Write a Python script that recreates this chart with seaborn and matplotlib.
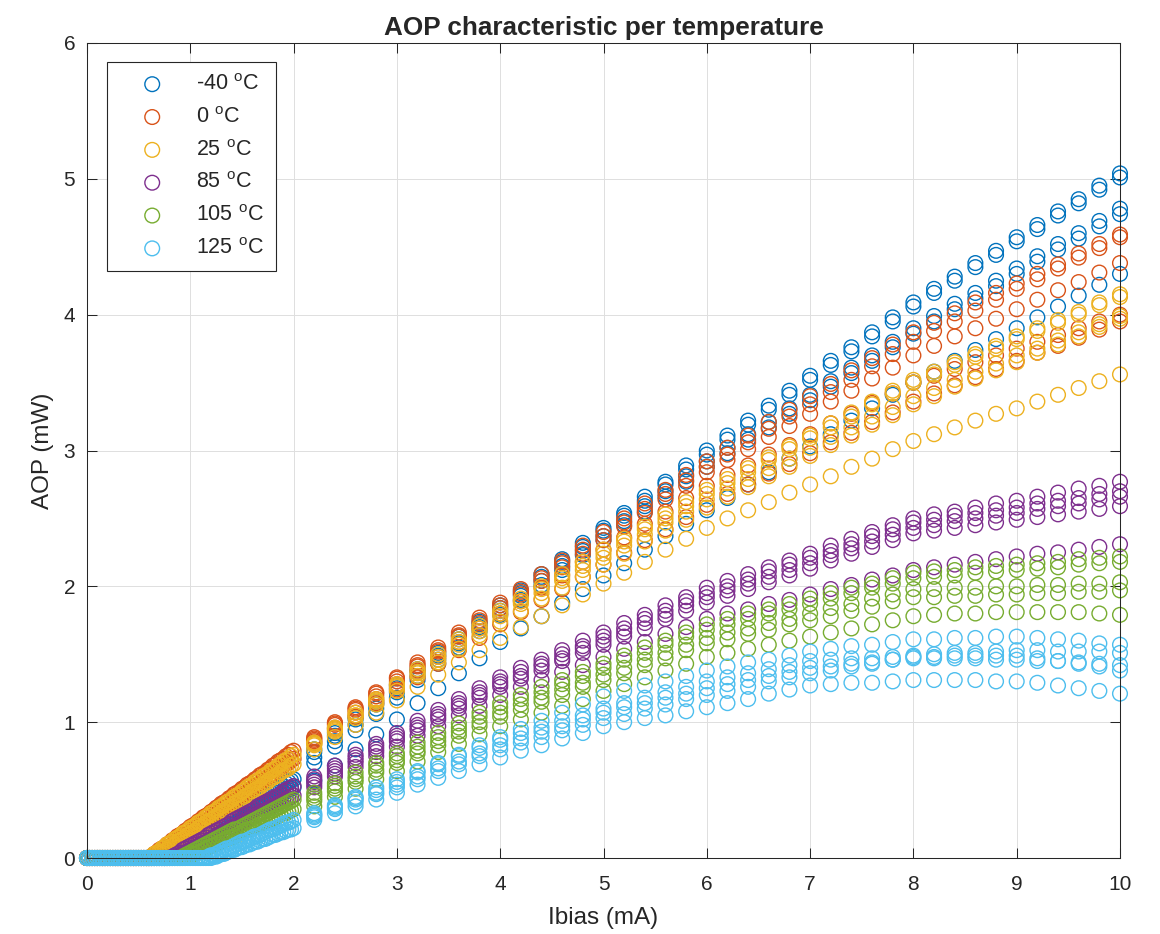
import pandas as pd
import seaborn as sns
import matplotlib.pyplot as plt

# bias current sweeps (mA): fine sweep up to 2 mA, coarse sweep above it
ibias_lo = [0.0, 0.025, 0.05, 0.075, 0.1, 0.125, 0.15, 0.175, 0.2, 0.225,
            0.25, 0.275, 0.3, 0.325, 0.35, 0.375, 0.4, 0.425, 0.45, 0.475,
            0.5, 0.525, 0.55, 0.575, 0.6, 0.625, 0.65, 0.675, 0.7, 0.725,
            0.75, 0.775, 0.8, 0.825, 0.85, 0.875, 0.9, 0.925, 0.95, 0.975,
            1.0, 1.025, 1.05, 1.075, 1.1, 1.125, 1.15, 1.175, 1.2, 1.225,
            1.25, 1.275, 1.3, 1.325, 1.35, 1.375, 1.4, 1.425, 1.45, 1.475,
            1.5, 1.525, 1.55, 1.575, 1.6, 1.625, 1.65, 1.675, 1.7, 1.725,
            1.75, 1.775, 1.8, 1.825, 1.85, 1.875, 1.9, 1.925, 1.95, 1.975,
            2.0]
ibias_hi = [2.2, 2.4, 2.6, 2.8, 3.0, 3.2, 3.4, 3.6, 3.8, 4.0,
            4.2, 4.4, 4.6, 4.8, 5.0, 5.2, 5.4, 5.6, 5.8, 6.0,
            6.2, 6.4, 6.6, 6.8, 7.0, 7.2, 7.4, 7.6, 7.8, 8.0,
            8.2, 8.4, 8.6, 8.8, 9.0, 9.2, 9.4, 9.6, 9.8, 10.0]

temps = ["-40", "0", "25", "85", "105", "125"]
colors = ["#0072BD", "#D95319", "#EDB120", "#7E2F8E", "#77AC30", "#4DBEEE"]

# AOP (mW) on the fine sweep, two devices per temperature
lo_m40 = [
    [0, 0, 0, 0, 0, 0, 0, 0, 0, 0,
     0, 0, 0, 0, 0, 0, 0, 0, 0, 0,
     0, 0, 0, 0, 0, 0, 0, 0, 0, 0,
     0.00, 0.01, 0.02, 0.03, 0.05, 0.06, 0.07, 0.08, 0.09, 0.10,
     0.12, 0.13, 0.14, 0.15, 0.16, 0.17, 0.19, 0.20, 0.21, 0.22,
     0.23, 0.24, 0.26, 0.27, 0.28, 0.29, 0.30, 0.31, 0.32, 0.34,
     0.35, 0.36, 0.37, 0.38, 0.39, 0.41, 0.42, 0.43, 0.44, 0.45,
     0.46, 0.48, 0.49, 0.50, 0.51, 0.52, 0.53, 0.55, 0.56, 0.57,
     0.58],
    [0, 0, 0, 0, 0, 0, 0, 0, 0, 0,
     0, 0, 0, 0, 0, 0, 0, 0, 0, 0,
     0, 0, 0, 0, 0, 0, 0, 0, 0, 0,
     0, 0, 0.00, 0.01, 0.02, 0.03, 0.04, 0.05, 0.06, 0.08,
     0.09, 0.10, 0.11, 0.12, 0.13, 0.14, 0.15, 0.16, 0.17, 0.18,
     0.19, 0.21, 0.22, 0.23, 0.24, 0.25, 0.26, 0.27, 0.28, 0.29,
     0.30, 0.31, 0.32, 0.34, 0.35, 0.36, 0.37, 0.38, 0.39, 0.40,
     0.41, 0.42, 0.43, 0.44, 0.45, 0.47, 0.48, 0.49, 0.50, 0.51,
     0.52],
]
lo_0 = [
    [0, 0, 0, 0, 0, 0, 0, 0, 0, 0,
     0, 0, 0, 0, 0, 0, 0, 0, 0, 0,
     0, 0, 0, 0, 0.00, 0.01, 0.03, 0.04, 0.06, 0.07,
     0.08, 0.10, 0.11, 0.13, 0.14, 0.16, 0.17, 0.18, 0.20, 0.21,
     0.23, 0.24, 0.25, 0.27, 0.28, 0.30, 0.31, 0.32, 0.34, 0.35,
     0.37, 0.38, 0.40, 0.41, 0.42, 0.44, 0.45, 0.47, 0.48, 0.49,
     0.51, 0.52, 0.54, 0.55, 0.56, 0.58, 0.59, 0.61, 0.62, 0.63,
     0.65, 0.66, 0.68, 0.69, 0.71, 0.72, 0.73, 0.75, 0.76, 0.78,
     0.79],
    [0, 0, 0, 0, 0, 0, 0, 0, 0, 0,
     0, 0, 0, 0, 0, 0, 0, 0, 0, 0,
     0, 0, 0, 0, 0, 0, 0.00, 0.01, 0.03, 0.04,
     0.05, 0.07, 0.08, 0.09, 0.11, 0.12, 0.14, 0.15, 0.16, 0.18,
     0.19, 0.20, 0.22, 0.23, 0.24, 0.26, 0.27, 0.28, 0.30, 0.31,
     0.32, 0.34, 0.35, 0.37, 0.38, 0.39, 0.41, 0.42, 0.43, 0.45,
     0.46, 0.47, 0.49, 0.50, 0.51, 0.53, 0.54, 0.55, 0.57, 0.58,
     0.59, 0.61, 0.62, 0.64, 0.65, 0.66, 0.68, 0.69, 0.70, 0.72,
     0.73],
]
lo_25 = [
    [0, 0, 0, 0, 0, 0, 0, 0, 0, 0,
     0, 0, 0, 0, 0, 0, 0, 0, 0, 0,
     0, 0, 0, 0, 0.00, 0.01, 0.03, 0.04, 0.05, 0.07,
     0.08, 0.10, 0.11, 0.12, 0.14, 0.15, 0.16, 0.18, 0.19, 0.20,
     0.22, 0.23, 0.24, 0.26, 0.27, 0.28, 0.30, 0.31, 0.33, 0.34,
     0.35, 0.37, 0.38, 0.39, 0.41, 0.42, 0.43, 0.45, 0.46, 0.47,
     0.49, 0.50, 0.52, 0.53, 0.54, 0.56, 0.57, 0.58, 0.60, 0.61,
     0.62, 0.64, 0.65, 0.66, 0.68, 0.69, 0.71, 0.72, 0.73, 0.75,
     0.76],
    [0, 0, 0, 0, 0, 0, 0, 0, 0, 0,
     0, 0, 0, 0, 0, 0, 0, 0, 0, 0,
     0, 0, 0, 0, 0, 0, 0.00, 0.01, 0.03, 0.04,
     0.05, 0.06, 0.08, 0.09, 0.10, 0.12, 0.13, 0.14, 0.15, 0.17,
     0.18, 0.19, 0.20, 0.22, 0.23, 0.24, 0.26, 0.27, 0.28, 0.29,
     0.31, 0.32, 0.33, 0.35, 0.36, 0.37, 0.38, 0.40, 0.41, 0.42,
     0.43, 0.45, 0.46, 0.47, 0.49, 0.50, 0.51, 0.52, 0.54, 0.55,
     0.56, 0.58, 0.59, 0.60, 0.61, 0.63, 0.64, 0.65, 0.66, 0.68,
     0.69],
]
lo_85 = [
    [0, 0, 0, 0, 0, 0, 0, 0, 0, 0,
     0, 0, 0, 0, 0, 0, 0, 0, 0, 0,
     0, 0, 0, 0, 0, 0, 0, 0, 0, 0,
     0, 0, 0.00, 0.01, 0.02, 0.03, 0.04, 0.06, 0.07, 0.08,
     0.09, 0.10, 0.11, 0.12, 0.13, 0.14, 0.15, 0.17, 0.18, 0.19,
     0.20, 0.21, 0.22, 0.23, 0.24, 0.25, 0.27, 0.28, 0.29, 0.30,
     0.31, 0.32, 0.33, 0.34, 0.35, 0.36, 0.38, 0.39, 0.40, 0.41,
     0.42, 0.43, 0.44, 0.45, 0.46, 0.47, 0.49, 0.50, 0.51, 0.52,
     0.53],
    [0, 0, 0, 0, 0, 0, 0, 0, 0, 0,
     0, 0, 0, 0, 0, 0, 0, 0, 0, 0,
     0, 0, 0, 0, 0, 0, 0, 0, 0, 0,
     0, 0, 0, 0, 0.00, 0.01, 0.02, 0.03, 0.04, 0.05,
     0.06, 0.07, 0.08, 0.09, 0.10, 0.11, 0.12, 0.13, 0.14, 0.15,
     0.16, 0.17, 0.18, 0.19, 0.20, 0.21, 0.22, 0.23, 0.24, 0.25,
     0.26, 0.27, 0.28, 0.29, 0.30, 0.31, 0.32, 0.33, 0.34, 0.35,
     0.36, 0.37, 0.38, 0.39, 0.40, 0.41, 0.42, 0.43, 0.44, 0.45,
     0.46],
]
lo_105 = [
    [0, 0, 0, 0, 0, 0, 0, 0, 0, 0,
     0, 0, 0, 0, 0, 0, 0, 0, 0, 0,
     0, 0, 0, 0, 0, 0, 0, 0, 0, 0,
     0, 0, 0, 0, 0, 0, 0.00, 0.01, 0.02, 0.03,
     0.04, 0.05, 0.06, 0.07, 0.08, 0.09, 0.10, 0.11, 0.12, 0.13,
     0.14, 0.15, 0.16, 0.17, 0.18, 0.19, 0.20, 0.21, 0.21, 0.22,
     0.23, 0.24, 0.25, 0.26, 0.27, 0.28, 0.29, 0.30, 0.31, 0.32,
     0.33, 0.34, 0.35, 0.36, 0.37, 0.38, 0.39, 0.40, 0.41, 0.42,
     0.43],
    [0, 0, 0, 0, 0, 0, 0, 0, 0, 0,
     0, 0, 0, 0, 0, 0, 0, 0, 0, 0,
     0, 0, 0, 0, 0, 0, 0, 0, 0, 0,
     0, 0, 0, 0, 0, 0, 0, 0, 0.00, 0.01,
     0.02, 0.03, 0.03, 0.04, 0.05, 0.06, 0.07, 0.08, 0.09, 0.09,
     0.10, 0.11, 0.12, 0.13, 0.14, 0.15, 0.15, 0.16, 0.17, 0.18,
     0.19, 0.20, 0.21, 0.21, 0.22, 0.23, 0.24, 0.25, 0.26, 0.27,
     0.27, 0.28, 0.29, 0.30, 0.31, 0.32, 0.33, 0.33, 0.34, 0.35,
     0.36],
]
lo_125 = [
    [0, 0, 0, 0, 0, 0, 0, 0, 0, 0,
     0, 0, 0, 0, 0, 0, 0, 0, 0, 0,
     0, 0, 0, 0, 0, 0, 0, 0, 0, 0,
     0, 0, 0, 0, 0, 0, 0, 0, 0, 0,
     0, 0, 0, 0, 0, 0, 0.00, 0.01, 0.02, 0.02,
     0.03, 0.04, 0.05, 0.06, 0.07, 0.07, 0.08, 0.09, 0.10, 0.11,
     0.12, 0.12, 0.13, 0.14, 0.15, 0.16, 0.16, 0.17, 0.18, 0.19,
     0.20, 0.21, 0.21, 0.22, 0.23, 0.24, 0.25, 0.26, 0.26, 0.27,
     0.28],
    [0, 0, 0, 0, 0, 0, 0, 0, 0, 0,
     0, 0, 0, 0, 0, 0, 0, 0, 0, 0,
     0, 0, 0, 0, 0, 0, 0, 0, 0, 0,
     0, 0, 0, 0, 0, 0, 0, 0, 0, 0,
     0, 0, 0, 0, 0, 0, 0, 0, 0.00, 0.01,
     0.01, 0.02, 0.03, 0.03, 0.04, 0.05, 0.06, 0.06, 0.07, 0.08,
     0.08, 0.09, 0.10, 0.10, 0.11, 0.12, 0.12, 0.13, 0.14, 0.14,
     0.15, 0.16, 0.17, 0.17, 0.18, 0.19, 0.19, 0.20, 0.21, 0.21,
     0.22],
]

# AOP (mW) on the coarse sweep, five devices per temperature
hi_m40 = [
    [0.80, 0.92, 1.04, 1.15, 1.27, 1.39, 1.51, 1.63, 1.74, 1.86,
     1.97, 2.09, 2.20, 2.32, 2.43, 2.54, 2.66, 2.77, 2.89, 3.00,
     3.11, 3.22, 3.33, 3.44, 3.55, 3.66, 3.76, 3.87, 3.98, 4.09,
     4.19, 4.28, 4.38, 4.47, 4.57, 4.66, 4.76, 4.85, 4.95, 5.04],
    [0.74, 0.86, 0.98, 1.10, 1.22, 1.34, 1.46, 1.58, 1.70, 1.82,
     1.93, 2.04, 2.15, 2.26, 2.37, 2.48, 2.59, 2.70, 2.81, 2.92,
     3.02, 3.12, 3.21, 3.31, 3.41, 3.51, 3.61, 3.70, 3.80, 3.90,
     3.99, 4.08, 4.16, 4.25, 4.34, 4.43, 4.52, 4.60, 4.69, 4.78],
    [0.70, 0.82, 0.94, 1.06, 1.18, 1.31, 1.43, 1.55, 1.67, 1.79,
     1.90, 2.01, 2.12, 2.23, 2.34, 2.45, 2.55, 2.66, 2.77, 2.88,
     2.98, 3.08, 3.17, 3.27, 3.37, 3.47, 3.57, 3.66, 3.76, 3.86,
     3.95, 4.04, 4.12, 4.21, 4.30, 4.39, 4.48, 4.56, 4.65, 4.74],
    [0.57, 0.68, 0.80, 0.91, 1.02, 1.14, 1.25, 1.36, 1.47, 1.59,
     1.69, 1.78, 1.88, 1.98, 2.08, 2.17, 2.27, 2.37, 2.46, 2.56,
     2.65, 2.75, 2.84, 2.94, 3.03, 3.12, 3.22, 3.31, 3.41, 3.50,
     3.58, 3.66, 3.74, 3.82, 3.90, 3.98, 4.06, 4.14, 4.22, 4.30],
    [0.78, 0.90, 1.02, 1.13, 1.25, 1.37, 1.49, 1.61, 1.72, 1.84,
     1.95, 2.07, 2.18, 2.29, 2.41, 2.52, 2.63, 2.75, 2.86, 2.97,
     3.08, 3.19, 3.30, 3.41, 3.52, 3.63, 3.73, 3.84, 3.95, 4.06,
     4.16, 4.25, 4.35, 4.44, 4.54, 4.63, 4.73, 4.82, 4.92, 5.01],
]
hi_0 = [
    [0.89, 1.00, 1.11, 1.22, 1.33, 1.44, 1.55, 1.66, 1.77, 1.88,
     1.98, 2.09, 2.19, 2.30, 2.40, 2.50, 2.61, 2.71, 2.82, 2.92,
     3.02, 3.11, 3.21, 3.30, 3.40, 3.49, 3.59, 3.68, 3.78, 3.87,
     3.94, 4.01, 4.09, 4.16, 4.23, 4.30, 4.37, 4.45, 4.52, 4.59],
    [0.88, 0.99, 1.10, 1.21, 1.32, 1.42, 1.53, 1.64, 1.75, 1.86,
     1.96, 2.06, 2.17, 2.27, 2.37, 2.47, 2.57, 2.68, 2.78, 2.88,
     2.97, 3.06, 3.16, 3.25, 3.34, 3.43, 3.52, 3.62, 3.71, 3.80,
     3.88, 3.95, 4.03, 4.11, 4.19, 4.26, 4.34, 4.42, 4.49, 4.57],
    [0.87, 0.98, 1.09, 1.19, 1.30, 1.41, 1.52, 1.63, 1.73, 1.84,
     1.94, 2.04, 2.14, 2.24, 2.34, 2.44, 2.54, 2.64, 2.74, 2.84,
     2.93, 3.01, 3.10, 3.18, 3.27, 3.36, 3.44, 3.53, 3.61, 3.70,
     3.77, 3.84, 3.90, 3.97, 4.04, 4.11, 4.18, 4.24, 4.31, 4.38],
    [0.86, 0.96, 1.07, 1.17, 1.28, 1.38, 1.48, 1.59, 1.69, 1.80,
     1.89, 1.99, 2.08, 2.18, 2.27, 2.36, 2.46, 2.55, 2.65, 2.74,
     2.82, 2.89, 2.97, 3.04, 3.12, 3.20, 3.27, 3.35, 3.42, 3.50,
     3.55, 3.60, 3.65, 3.70, 3.75, 3.80, 3.85, 3.90, 3.95, 4.00],
    [0.85, 0.95, 1.04, 1.14, 1.24, 1.33, 1.43, 1.53, 1.62, 1.72,
     1.81, 1.90, 1.98, 2.07, 2.16, 2.25, 2.34, 2.42, 2.51, 2.60,
     2.68, 2.75, 2.83, 2.90, 2.98, 3.06, 3.13, 3.21, 3.28, 3.36,
     3.42, 3.48, 3.54, 3.60, 3.66, 3.72, 3.77, 3.83, 3.89, 3.95],
]
hi_25 = [
    [0.85, 0.96, 1.07, 1.17, 1.28, 1.39, 1.50, 1.61, 1.71, 1.82,
     1.91, 2.00, 2.09, 2.18, 2.27, 2.35, 2.44, 2.53, 2.62, 2.71,
     2.79, 2.87, 2.95, 3.03, 3.11, 3.20, 3.28, 3.36, 3.44, 3.52,
     3.58, 3.65, 3.71, 3.77, 3.84, 3.90, 3.96, 4.02, 4.09, 4.15],
    [0.84, 0.94, 1.05, 1.15, 1.26, 1.36, 1.46, 1.57, 1.67, 1.78,
     1.87, 1.95, 2.04, 2.12, 2.21, 2.30, 2.38, 2.47, 2.55, 2.64,
     2.72, 2.79, 2.87, 2.94, 3.02, 3.10, 3.17, 3.25, 3.32, 3.40,
     3.46, 3.52, 3.58, 3.64, 3.70, 3.75, 3.81, 3.87, 3.93, 3.99],
    [0.83, 0.93, 1.03, 1.13, 1.23, 1.34, 1.44, 1.54, 1.64, 1.74,
     1.82, 1.91, 1.99, 2.07, 2.16, 2.24, 2.33, 2.41, 2.49, 2.58,
     2.66, 2.73, 2.81, 2.88, 2.96, 3.04, 3.11, 3.19, 3.26, 3.34,
     3.40, 3.47, 3.53, 3.59, 3.65, 3.72, 3.78, 3.84, 3.91, 3.97],
    [0.80, 0.89, 0.98, 1.07, 1.16, 1.26, 1.35, 1.44, 1.53, 1.62,
     1.70, 1.78, 1.86, 1.94, 2.02, 2.10, 2.18, 2.27, 2.35, 2.43,
     2.50, 2.56, 2.62, 2.69, 2.75, 2.81, 2.88, 2.94, 3.01, 3.07,
     3.12, 3.17, 3.22, 3.27, 3.31, 3.36, 3.41, 3.46, 3.51, 3.56],
    [0.84, 0.95, 1.05, 1.16, 1.27, 1.37, 1.48, 1.59, 1.69, 1.80,
     1.89, 1.98, 2.06, 2.15, 2.24, 2.33, 2.42, 2.50, 2.59, 2.68,
     2.76, 2.84, 2.93, 3.01, 3.09, 3.17, 3.25, 3.34, 3.42, 3.50,
     3.56, 3.63, 3.69, 3.75, 3.82, 3.88, 3.94, 4.00, 4.07, 4.13],
]
hi_85 = [
    [0.60, 0.68, 0.76, 0.84, 0.92, 1.01, 1.09, 1.17, 1.25, 1.33,
     1.40, 1.46, 1.53, 1.60, 1.66, 1.73, 1.79, 1.86, 1.92, 1.99,
     2.04, 2.09, 2.14, 2.19, 2.24, 2.30, 2.35, 2.40, 2.45, 2.50,
     2.53, 2.55, 2.58, 2.61, 2.63, 2.66, 2.69, 2.72, 2.74, 2.77],
    [0.58, 0.66, 0.74, 0.82, 0.90, 0.98, 1.06, 1.14, 1.22, 1.30,
     1.37, 1.43, 1.50, 1.56, 1.63, 1.69, 1.76, 1.82, 1.89, 1.95,
     2.00, 2.05, 2.11, 2.16, 2.21, 2.26, 2.31, 2.37, 2.42, 2.47,
     2.49, 2.52, 2.54, 2.56, 2.58, 2.61, 2.63, 2.65, 2.68, 2.70],
    [0.56, 0.64, 0.72, 0.80, 0.88, 0.96, 1.04, 1.12, 1.20, 1.28,
     1.34, 1.41, 1.47, 1.54, 1.60, 1.66, 1.73, 1.79, 1.86, 1.92,
     1.97, 2.02, 2.07, 2.12, 2.17, 2.23, 2.28, 2.33, 2.38, 2.43,
     2.45, 2.48, 2.50, 2.52, 2.54, 2.57, 2.59, 2.61, 2.64, 2.66],
    [0.54, 0.62, 0.70, 0.78, 0.86, 0.94, 1.02, 1.10, 1.18, 1.26,
     1.32, 1.38, 1.45, 1.51, 1.57, 1.63, 1.69, 1.76, 1.82, 1.88,
     1.93, 1.98, 2.03, 2.08, 2.13, 2.19, 2.24, 2.29, 2.34, 2.39,
     2.41, 2.43, 2.45, 2.47, 2.49, 2.51, 2.53, 2.55, 2.57, 2.59],
    [0.52, 0.60, 0.67, 0.75, 0.82, 0.90, 0.97, 1.05, 1.12, 1.20,
     1.26, 1.31, 1.37, 1.42, 1.48, 1.54, 1.59, 1.65, 1.70, 1.76,
     1.80, 1.83, 1.87, 1.90, 1.94, 1.98, 2.01, 2.05, 2.08, 2.12,
     2.14, 2.16, 2.18, 2.20, 2.22, 2.24, 2.25, 2.27, 2.29, 2.31],
]
hi_105 = [
    [0.48, 0.55, 0.63, 0.70, 0.77, 0.85, 0.92, 0.99, 1.07, 1.14,
     1.20, 1.26, 1.31, 1.37, 1.43, 1.49, 1.55, 1.60, 1.66, 1.72,
     1.76, 1.80, 1.83, 1.87, 1.91, 1.95, 1.99, 2.02, 2.06, 2.10,
     2.11, 2.12, 2.14, 2.15, 2.16, 2.17, 2.18, 2.20, 2.21, 2.22],
    [0.46, 0.53, 0.60, 0.68, 0.75, 0.82, 0.89, 0.96, 1.04, 1.11,
     1.17, 1.22, 1.28, 1.34, 1.40, 1.46, 1.51, 1.57, 1.63, 1.68,
     1.72, 1.76, 1.80, 1.83, 1.87, 1.91, 1.95, 1.99, 2.02, 2.06,
     2.07, 2.08, 2.10, 2.11, 2.12, 2.13, 2.14, 2.16, 2.17, 2.18],
    [0.44, 0.51, 0.58, 0.65, 0.72, 0.79, 0.86, 0.93, 1.00, 1.07,
     1.13, 1.18, 1.24, 1.29, 1.35, 1.40, 1.46, 1.51, 1.57, 1.62,
     1.66, 1.69, 1.73, 1.76, 1.80, 1.84, 1.87, 1.91, 1.94, 1.98,
     1.98, 1.99, 1.99, 2.00, 2.00, 2.01, 2.01, 2.02, 2.02, 2.03],
    [0.42, 0.49, 0.56, 0.63, 0.70, 0.77, 0.83, 0.90, 0.97, 1.04,
     1.09, 1.15, 1.20, 1.26, 1.31, 1.36, 1.42, 1.47, 1.53, 1.58,
     1.61, 1.65, 1.68, 1.72, 1.75, 1.78, 1.82, 1.85, 1.89, 1.92,
     1.92, 1.93, 1.93, 1.94, 1.94, 1.95, 1.95, 1.96, 1.96, 1.97],
    [0.38, 0.45, 0.51, 0.58, 0.64, 0.71, 0.78, 0.84, 0.91, 0.97,
     1.02, 1.07, 1.12, 1.17, 1.23, 1.28, 1.33, 1.38, 1.43, 1.48,
     1.51, 1.54, 1.57, 1.60, 1.63, 1.66, 1.69, 1.72, 1.75, 1.78,
     1.79, 1.80, 1.80, 1.81, 1.81, 1.81, 1.81, 1.81, 1.80, 1.79],
]
hi_125 = [
    [0.33, 0.39, 0.45, 0.52, 0.58, 0.64, 0.70, 0.76, 0.83, 0.89,
     0.95, 1.01, 1.07, 1.13, 1.19, 1.23, 1.27, 1.30, 1.34, 1.38,
     1.41, 1.44, 1.46, 1.49, 1.52, 1.54, 1.56, 1.57, 1.59, 1.61,
     1.61, 1.62, 1.62, 1.63, 1.63, 1.62, 1.61, 1.60, 1.58, 1.57],
    [0.32, 0.38, 0.44, 0.50, 0.56, 0.63, 0.69, 0.75, 0.81, 0.87,
     0.92, 0.96, 1.01, 1.05, 1.10, 1.14, 1.18, 1.22, 1.26, 1.30,
     1.33, 1.36, 1.39, 1.42, 1.45, 1.46, 1.47, 1.47, 1.48, 1.49,
     1.50, 1.51, 1.51, 1.52, 1.53, 1.53, 1.52, 1.52, 1.52, 1.51],
    [0.31, 0.37, 0.43, 0.48, 0.54, 0.60, 0.66, 0.71, 0.77, 0.83,
     0.88, 0.93, 0.97, 1.02, 1.07, 1.11, 1.14, 1.18, 1.21, 1.25,
     1.28, 1.31, 1.34, 1.37, 1.40, 1.41, 1.43, 1.44, 1.46, 1.47,
     1.47, 1.47, 1.47, 1.46, 1.46, 1.45, 1.45, 1.44, 1.43, 1.42],
    [0.30, 0.36, 0.41, 0.47, 0.52, 0.58, 0.64, 0.69, 0.75, 0.80,
     0.85, 0.89, 0.94, 0.98, 1.03, 1.06, 1.10, 1.13, 1.17, 1.20,
     1.23, 1.26, 1.30, 1.33, 1.36, 1.38, 1.41, 1.43, 1.46, 1.48,
     1.48, 1.49, 1.49, 1.49, 1.49, 1.47, 1.45, 1.43, 1.41, 1.38],
    [0.28, 0.33, 0.38, 0.43, 0.48, 0.54, 0.59, 0.64, 0.69, 0.74,
     0.79, 0.83, 0.88, 0.92, 0.97, 1.00, 1.03, 1.05, 1.08, 1.11,
     1.14, 1.17, 1.21, 1.24, 1.27, 1.28, 1.29, 1.29, 1.30, 1.31,
     1.31, 1.31, 1.31, 1.30, 1.30, 1.29, 1.27, 1.25, 1.23, 1.21],
]

aop_lo = [lo_m40, lo_0, lo_25, lo_85, lo_105, lo_125]
aop_hi = [hi_m40, hi_0, hi_25, hi_85, hi_105, hi_125]

# long-form table: one row per measured point
frames = []
for temp, lo_set, hi_set in zip(temps, aop_lo, aop_hi):
    for dev in lo_set:
        frames.append(pd.DataFrame({"ibias": ibias_lo, "aop": dev, "temp": temp}))
    for dev in hi_set:
        frames.append(pd.DataFrame({"ibias": ibias_hi, "aop": dev, "temp": temp}))
df = pd.concat(frames, ignore_index=True)

sns.set_style("ticks")
plt.rcParams["font.family"] = ["Liberation Sans", "DejaVu Sans"]
ink = "#262626"

fig = plt.figure(figsize=(11.6, 9.34), dpi=100)
ax = fig.add_axes([87 / 1160, 76 / 934, 1033 / 1160, 815 / 934])

# hollow circles, one colour per temperature (later temperatures drawn on top)
for temp, color in zip(temps, colors):
    sns.scatterplot(data=df[df["temp"] == temp], x="ibias", y="aop", ax=ax,
                    marker="o", s=112, color=color, facecolors="none",
                    edgecolor=color, linewidth=1.0, clip_on=False,
                    label=temp + r" $^\mathregular{o}$C")

ax.set_xlim(0, 10)
ax.set_ylim(0, 6)
ax.set_xticks(range(0, 11))
ax.set_yticks(range(0, 7))
ax.grid(True, color="#dedede", linewidth=0.7)
ax.set_axisbelow(True)
ax.tick_params(direction="in", length=7, width=0.75, top=True, right=True,
               labelsize=15, colors=ink)
ax.tick_params(axis="x", pad=12.5)
ax.tick_params(axis="y", pad=8.5)
for sp in ax.spines.values():
    sp.set_color(ink)
    sp.set_linewidth(0.75)

ax.set_xlabel("Ibias (mA)", fontsize=17.5, color=ink, labelpad=9)
ax.set_ylabel("AOP (mW)", fontsize=17.5, color=ink, labelpad=7)
ax.set_title("AOP characteristic per temperature", fontsize=18.8,
             fontweight="bold", pad=6)

leg = ax.legend(loc="upper left", bbox_to_anchor=(20 / 1033, 1 - 19 / 815),
                borderaxespad=0, fontsize=15.5, frameon=True, fancybox=False,
                edgecolor=ink, framealpha=1, scatterpoints=1,
                handlelength=3.1, handletextpad=0.5, borderpad=0.55,
                labelspacing=0.55)
leg.get_frame().set_linewidth(0.8)

fig.savefig("out.png", dpi=100)
